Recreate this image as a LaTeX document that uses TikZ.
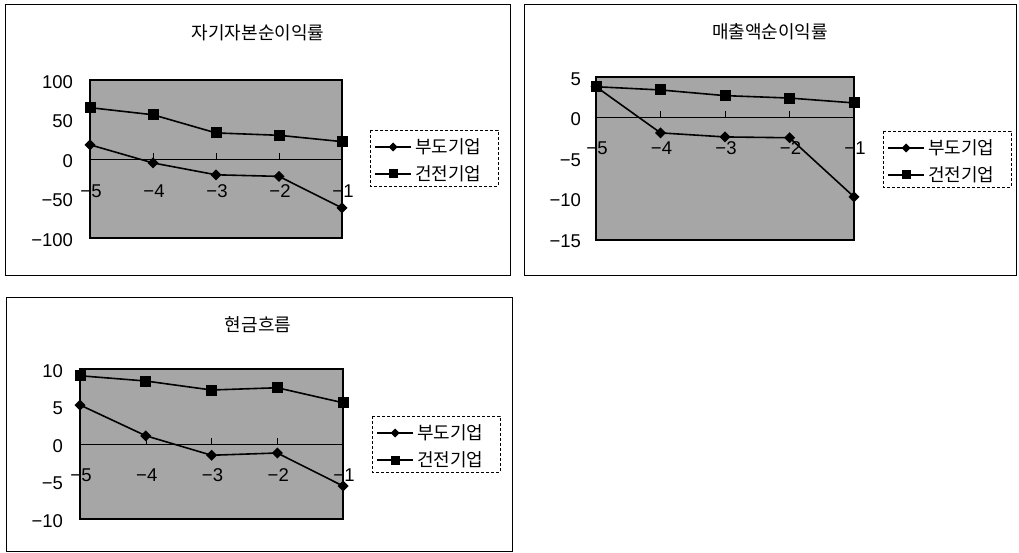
\documentclass[tikz,border=0pt]{standalone}
\usepackage{fontspec}
\setmainfont{Liberation Sans}
\newfontfamily\krfont{Noto Sans CJK KR}
\usetikzlibrary{shapes.geometric}
\begin{document}
\begin{tikzpicture}[x=1pt,y=-1pt,outer sep=0pt,inner sep=0pt]
	\tikzstyle{frame_style} = [draw, line width=0.9pt]
	\tikzstyle{plot_style} = [draw, line width=1.2pt, fill=black!35]
	\tikzstyle{title_style} = [font=\krfont\fontsize{18}{18}\selectfont]
	\tikzstyle{num_style} = [font=\fontsize{18.5}{18.5}\selectfont]
	\tikzstyle{key_style} = [font=\krfont\fontsize{18}{18}\selectfont, anchor=west]
	\tikzstyle{bad_style} = [diamond, fill=black, minimum size=11pt]
	\tikzstyle{good_style} = [rectangle, fill=black, minimum size=11pt]
	\tikzstyle{line_style} = [line width=1.6pt]
	\tikzstyle{keybox_style} = [draw, dash pattern=on 3pt off 2pt, line width=0.7pt]
	\useasboundingbox (0,0) rectangle (1019,553);
	%%% 자기자본순이익률
	\draw[frame_style] (5,4) rectangle (510,275);
	\node[title_style] (title-1) at (258,33) {자기자본순이익률};
	\draw[plot_style] (90,80) rectangle (342,238);
	\draw (90,159) -- (342,159);
	\foreach \v/\t [count=\i] in {100/100,50/50,0/0,-50/−50,-100/−100}
		\node[num_style,anchor=east] (Y1-\i) at (73,{161-0.79*\v}) {\t};
	\foreach \t [count=\i] in {−5,−4,−3,−2,−1}{
		\draw ({90+63*(\i-1)},159) -- ++(0,-6);
		\node[num_style] (X1-\i) at ({91+63*(\i-1)},191) {\t};
	}
	\foreach \v [count=\i] in {65,56,33,30,22}
		\node[good_style] (G1-\i) at ({90+63*(\i-1)},{159-0.79*\v}) {};
	\foreach \v [count=\i] in {18,-5,-20,-22,-62}
		\node[bad_style] (B1-\i) at ({90+63*(\i-1)},{159-0.79*\v}) {};
	\foreach \i [remember=\i as \j (initially 1)] in {2,...,5}
		\draw[line_style] (G1-\j.center) -- (G1-\i.center) (B1-\j.center) -- (B1-\i.center);
	%%% 매출액순이익률
	\draw[frame_style] (524,4) rectangle (1016,275);
	\node[title_style] (title-2) at (770,32) {매출액순이익률};
	\draw[plot_style] (596,77) rectangle (854,240);
	\draw (596,117.5) -- (854,117.5);
	\foreach \v/\t [count=\i] in {5/5,0/0,-5/−5,-10/−10,-15/−15}
		\node[num_style,anchor=east] (Y2-\i) at (581,{119.5-8.1*\v}) {\t};
	\foreach \t [count=\i] in {−5,−4,−3,−2,−1}{
		\draw ({596+64.5*(\i-1)},117.5) -- ++(0,-6);
		\node[num_style] (X2-\i) at ({597+64.5*(\i-1)},148) {\t};
	}
	\foreach \v [count=\i] in {3.8,3.4,2.7,2.4,1.8}
		\node[good_style] (G2-\i) at ({596+64.5*(\i-1)},{117.5-8.1*\v}) {};
	\foreach \v [count=\i] in {3.8,-1.9,-2.4,-2.5,-9.8}
		\node[bad_style] (B2-\i) at ({596+64.5*(\i-1)},{117.5-8.1*\v}) {};
	\foreach \i [remember=\i as \j (initially 1)] in {2,...,5}
		\draw[line_style] (G2-\j.center) -- (G2-\i.center) (B2-\j.center) -- (B2-\i.center);
	%%% 현금흐름
	\draw[frame_style] (6,297) rectangle (512,551);
	\node[title_style] (title-3) at (258,325) {현금흐름};
	\draw[plot_style] (80,369) rectangle (343,519);
	\draw (80,444) -- (343,444);
	\foreach \v/\t [count=\i] in {10/10,5/5,0/0,-5/−5,-10/−10}
		\node[num_style,anchor=east] (Y3-\i) at (63,{446-7.5*\v}) {\t};
	\foreach \t [count=\i] in {−5,−4,−3,−2,−1}{
		\draw ({80+65.75*(\i-1)},444) -- ++(0,-6);
		\node[num_style] (X3-\i) at ({81+65.75*(\i-1)},475) {\t};
	}
	\foreach \v [count=\i] in {9.1,8.4,7.2,7.5,5.5}
		\node[good_style] (G3-\i) at ({80+65.75*(\i-1)},{444-7.5*\v}) {};
	\foreach \v [count=\i] in {5.2,1.1,-1.5,-1.2,-5.6}
		\node[bad_style] (B3-\i) at ({80+65.75*(\i-1)},{444-7.5*\v}) {};
	\foreach \i [remember=\i as \j (initially 1)] in {2,...,5}
		\draw[line_style] (G3-\j.center) -- (G3-\i.center) (B3-\j.center) -- (B3-\i.center);
	%%% legends
	\foreach \lx/\ly [count=\k] in {370/130,883/131,372/416}{
		\draw[keybox_style] (\lx,\ly) rectangle ++(128,56);
		\coordinate (K\k-1a) at (\lx+5,\ly+17);
		\coordinate (K\k-1b) at (\lx+41,\ly+17);
		\coordinate (K\k-2a) at (\lx+5,\ly+44);
		\coordinate (K\k-2b) at (\lx+41,\ly+44);
		\draw[line_style,line width=1.3pt] (K\k-1a) -- (K\k-1b) (K\k-2a) -- (K\k-2b);
		\node[bad_style,minimum size=9pt] (KB-\k) at (\lx+23,\ly+17) {};
		\node[good_style,minimum size=9pt] (KG-\k) at (\lx+23,\ly+44) {};
		\node[key_style] (KT\k-1) at (\lx+45,\ly+17) {부도기업};
		\node[key_style] (KT\k-2) at (\lx+45,\ly+44) {건전기업};
	}
\end{tikzpicture}
\end{document}
